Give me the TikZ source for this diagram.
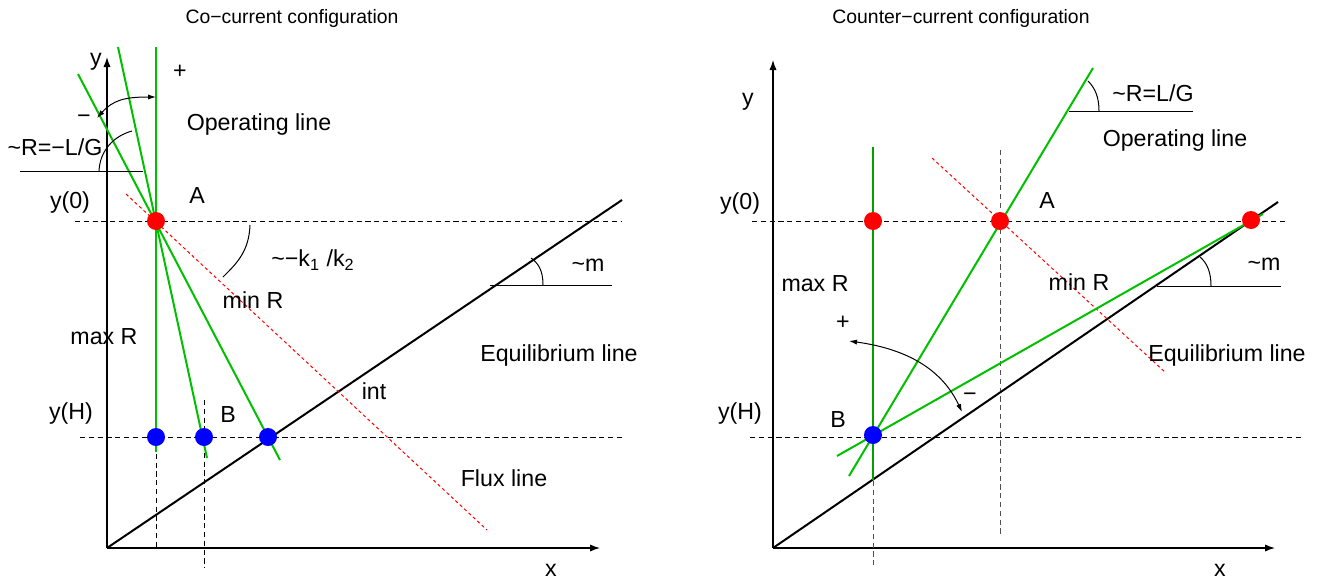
\documentclass[tikz,border=0pt]{standalone}
\usepackage{fontspec}
\setmainfont{Liberation Sans}
\usetikzlibrary{arrows.meta}
\definecolor{op-green}{HTML}{00C000}
\definecolor{op-dark}{HTML}{00A000}
\definecolor{flux-red}{HTML}{FF0000}
\definecolor{pt-red}{HTML}{FF0000}
\definecolor{pt-blue}{HTML}{0000FF}
\definecolor{guide}{HTML}{505050}
\tikzset{
  axis/.style={-{Latex[length=5pt,width=3.6pt]}, line width=0.6pt},
  eqline/.style={line width=1pt, draw=black},
  opline/.style={line width=1pt, draw=op-green},
  opdark/.style={line width=1pt, draw=op-dark},
  fluxline/.style={line width=0.5pt, draw=flux-red, dash pattern=on 1.6pt off 1.4pt},
  hguide/.style={line width=0.5pt, dash pattern=on 2.6pt off 1.8pt},
  vguide/.style={line width=0.5pt, draw=guide, dash pattern=on 2.6pt off 1.8pt},
  anglemark/.style={line width=0.5pt},
  swing/.style={{Latex[length=4pt,width=2.6pt]}-{Latex[length=4pt,width=2.6pt]}, line width=0.5pt},
  reddot/.style={circle, fill=pt-red, inner sep=0pt, minimum size=9pt},
  bluedot/.style={circle, fill=pt-blue, inner sep=0pt, minimum size=9pt},
  lbl/.style={font=\fontsize{11.6}{13}\selectfont, inner sep=0pt},
  ttl/.style={font=\fontsize{9.7}{12}\selectfont, inner sep=0pt}
}

\begin{document}
\begin{tikzpicture}[x=0.5pt, y=-0.5pt]
  \useasboundingbox (0,0) rectangle (1320,578);

  % ==== Co-current configuration ===========================================
  \node[ttl] (cotitle) at (292,18) {Co−current configuration};

  % ---- axes ----------------------------------------------------------------
  \coordinate (o1) at (107,548);
  \coordinate (ytop1) at (107,57);
  \coordinate (xend1) at (600,548);
  \draw[axis] (o1) -- (ytop1);
  \draw[axis] (o1) -- (xend1);
  \node[lbl] (ylab1) at (96,62) {y};
  \node[lbl] (xlab1) at (551,570) {x};

  % ---- guide lines ---------------------------------------------------------
  \draw[hguide] (75,221) -- (622,221);
  \draw[hguide] (80,437) -- (625,437);
  \draw[hguide] (156,445) -- (156,548);
  \draw[hguide] (204,400) -- (204,568);
  \node[lbl] (y0a) at (70,202) {y(0)};
  \node[lbl] (yHa) at (71,413) {y(H)};

  % ---- equilibrium line ----------------------------------------------------
  \coordinate (eqend1) at (622,200);
  \draw[eqline] (o1) -- (eqend1);
  \draw[anglemark] (490,285) -- (612,285);
  \draw[anglemark] (543,285) .. controls (543,270) and (538,263) .. (531,258);
  \node[lbl] (m1) at (588,265) {\textasciitilde m};
  \node[lbl] (eqlab1) at (559,355) {Equilibrium line};

  % ---- flux line -----------------------------------------------------------
  \draw[fluxline] (126,194) -- (487,530);
  \draw[anglemark] (250,225) .. controls (249,252) and (236,264) .. (223,277);
  \node[lbl] (kk) at (313,260) {\textasciitilde−k\textsubscript{1} /k\textsubscript{2}};
  \node[lbl] (minR1) at (253,300) {min R};
  \node[lbl] (int) at (374,391) {int};
  \node[lbl] (flux) at (504,478) {Flux line};

  % ---- operating lines -----------------------------------------------------
  \draw[opline] (156,47) -- (156,452);
  \draw[opline] (118,47) -- (207,458);
  \draw[opline] (78,74) -- (280,460);
  \draw[anglemark] (20,171) -- (143,171);
  \draw[anglemark] (99,171) .. controls (100,150) and (114,136) .. (132,131);
  \node[lbl] (RLG1) at (55,147) {\textasciitilde R=−L/G};
  \draw[swing] (97,118) .. controls (113,100) and (125,97) .. (156,97);
  \node[lbl] (plus1) at (180,72) {+};
  \node[lbl] (minus1) at (84,119) {−};
  \node[lbl] (oplab1) at (259,124) {Operating line};
  \node[lbl] (maxR1) at (104,337) {max R};

  % ---- points --------------------------------------------------------------
  \node[reddot] (A1) at (156,221) {};
  \node[lbl] (A1lab) at (197,196) {A};
  \node[bluedot] (B1a) at (156,437) {};
  \node[bluedot] (B1b) at (204,437) {};
  \node[bluedot] (B1c) at (268,437) {};
  \node[lbl] (B1lab) at (228,415) {B};

  % ==== Counter-current configuration =======================================
  \node[ttl] (cttitle) at (961,18) {Counter−current configuration};

  % ---- axes ----------------------------------------------------------------
  \coordinate (o2) at (773,548);
  \coordinate (ytop2) at (773,60);
  \coordinate (xend2) at (1275,548);
  \draw[axis] (o2) -- (ytop2);
  \draw[axis] (o2) -- (xend2);
  \node[lbl] (ylab2) at (748,102) {y};
  \node[lbl] (xlab2) at (1220,570) {x};

  % ---- guide lines ---------------------------------------------------------
  \draw[hguide] (752,221) -- (1288,221);
  \draw[hguide] (750,437) -- (1302,437);
  \draw[vguide] (873,437) -- (873,565);
  \draw[vguide] (1000,150) -- (1000,535);
  \node[lbl] (y0b) at (740,203) {y(0)};
  \node[lbl] (yHb) at (740,413) {y(H)};

  % ---- equilibrium line ----------------------------------------------------
  \coordinate (eqend2) at (1278,202);
  \draw[eqline] (o2) -- (eqend2);
  \draw[anglemark] (1157,286) -- (1281,286);
  \draw[anglemark] (1211,286) .. controls (1211,272) and (1207,263) .. (1200,257);
  \node[lbl] (m2) at (1264,264) {\textasciitilde m};
  \node[lbl] (eqlab2) at (1227,355) {Equilibrium line};

  % ---- flux line -----------------------------------------------------------
  \draw[fluxline] (932,158) -- (1166,373);
  \node[lbl] (minR2) at (1079,282) {min R};

  % ---- operating lines -----------------------------------------------------
  \draw[opdark] (873,147) -- (873,480);
  \draw[opline] (1093,68) -- (849,476);
  \draw[opline] (837,456) -- (1263,214);
  \draw[anglemark] (1069,111) -- (1193,111);
  \draw[anglemark] (1099,111) .. controls (1099,97) and (1095,88) .. (1088,81);
  \node[lbl] (RLG2) at (1153,93) {\textasciitilde R=L/G};
  \node[lbl] (oplab2) at (1175,140) {Operating line};
  \draw[swing] (849,341) .. controls (900,348) and (940,365) .. (962,412);
  \node[lbl] (plus2) at (843,323) {+};
  \node[lbl] (minus2) at (970,397) {−};
  \node[lbl] (maxR2) at (815,284) {max R};

  % ---- points --------------------------------------------------------------
  \node[reddot] (A2a) at (873,221) {};
  \node[reddot] (A2b) at (1000,221) {};
  \node[reddot] (A2c) at (1251,220) {};
  \node[lbl] (A2lab) at (1047,201) {A};
  \node[bluedot] (B2) at (873,435) {};
  \node[lbl] (B2lab) at (838,420) {B};

\end{tikzpicture}
\end{document}
